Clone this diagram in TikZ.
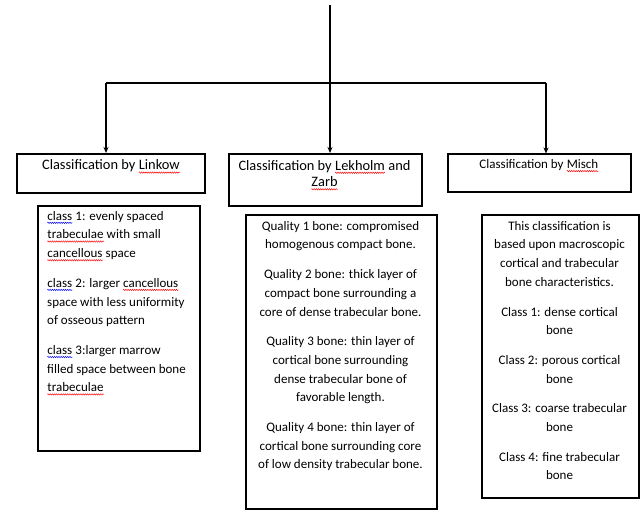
\documentclass[tikz,border=0pt]{standalone}
\usepackage{fontspec}
\setmainfont{Carlito}
\usetikzlibrary{arrows.meta,calc,decorations.pathmorphing}
\newcommand\squig[2]{\tikz[baseline=(sqw.base)]{\node[inner sep=0pt, outer sep=0pt] (sqw) {#2}; \draw[#1, line width=0.45pt, decorate, decoration={zigzag, amplitude=0.7pt, segment length=2.2pt}] ([yshift=-2.6pt]sqw.base west) -- ([yshift=-2.6pt]sqw.base east);}}
\newcommand\redsq[1]{\squig{red}{#1}}
\newcommand\bluesq[1]{\squig{blue}{#1}}
\tikzset{
  box/.style={draw, line width=1.7pt, anchor=north west, inner sep=0pt},
  hdrtxt/.style={inner sep=0pt, align=center, font=\fontsize{14.4}{16.5}\selectfont},
  bodytxt/.style={inner sep=0pt, font=\fontsize{13}{18.7}\selectfont},
  conn/.style={line width=1.1pt},
  arr/.style={conn, -{Stealth[length=6pt,width=5pt]}}
}
\begin{document}
\begin{tikzpicture}[x=1pt,y=-1pt]
\useasboundingbox (0,0) rectangle (641,513);
% header boxes
\node[box, minimum width=188pt, minimum height=39pt] (linkow) at (16,153) {};
\node[box, minimum width=193pt, minimum height=52pt] (lek) at (228,153) {};
\node[box, minimum width=183pt, minimum height=38pt] (misch) at (447,153.5) {};
\node[hdrtxt, anchor=base] (linkowt) at (111,170) {Classification by \redsq{Linkow}};
\node[hdrtxt, anchor=north] (lekt) at (324.5,160) {Classification by \redsq{Lekholm} and\\\redsq{Zarb}};
\node[hdrtxt, font=\fontsize{13}{16}\selectfont, anchor=base] (mischt) at (539,168.5) {Classification by \redsq{Misch}};
% body boxes
\node[box, minimum width=162pt, minimum height=245pt] (linkowb) at (37,205) {};
\node[box, minimum width=191pt, minimum height=294pt] (lekb) at (245,214) {};
\node[box, minimum width=157pt, minimum height=283pt] (mischb) at (481,214) {};
\node[bodytxt, align=left, anchor=north west] (linkowbt) at (47,211) {%
\bluesq{class} 1: evenly spaced\\
\redsq{trabeculae} with small\\
\redsq{cancellous} space\\[11pt]
\bluesq{class} 2: larger \redsq{cancellous}\\
space with less uniformity\\
of osseous pattern\\[11pt]
\bluesq{class} 3:larger marrow\\
filled space between bone\\
\redsq{trabeculae}};
\node[bodytxt, align=center, anchor=north] (lekbt) at (340.5,221) {%
Quality 1 bone: compromised\\
homogenous compact bone.\\[11pt]
Quality 2 bone: thick layer of\\
compact bone surrounding a\\
core of dense trabecular bone.\\[11pt]
Quality 3 bone: thin layer of\\
cortical bone surrounding\\
dense trabecular bone of\\
favorable length.\\[11pt]
Quality 4 bone: thin layer of\\
cortical bone surrounding core\\
of low density trabecular bone.};
\node[bodytxt, align=center, anchor=north] (mischbt) at (559.5,221) {%
This classification is\\
based upon macroscopic\\
cortical and trabecular\\
bone characteristics.\\[11pt]
Class 1: dense cortical\\
bone\\[11pt]
Class 2: porous cortical\\
bone\\[11pt]
Class 3: coarse trabecular\\
bone\\[11pt]
Class 4: fine trabecular\\
bone};
% connectors
\coordinate (top) at (330,5);
\coordinate (jn) at (330,83);
\coordinate (jl) at (106,83);
\coordinate (jr) at (546,83);
\draw[conn] (top) -- (jn);
\draw[conn] (jl) -- (jr);
\draw[arr] (jl) -- (jl |- linkow.north);
\draw[arr] (jn) -- (jn |- lek.north);
\draw[arr] (jr) -- (jr |- misch.north);
\end{tikzpicture}
\end{document}
